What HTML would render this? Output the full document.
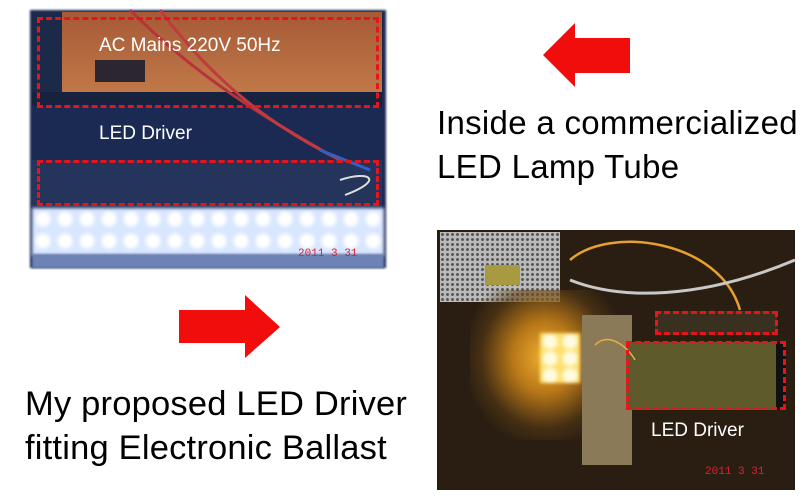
<!DOCTYPE html>
<html><head><meta charset="utf-8"><style>
body{margin:0;width:807px;height:502px;background:#fff;position:relative;overflow:hidden;font-family:"Liberation Sans",sans-serif}
.a{position:absolute}
.dash{position:absolute;border:3px dashed #e8141c;box-sizing:border-box}
.t{position:absolute;color:#000;font-size:32px;white-space:nowrap;line-height:1}
.w{position:absolute;color:#fff;white-space:nowrap;line-height:1}
</style></head><body>
<!-- top-left photo -->
<div class="a" style="left:30px;top:10px;width:356px;height:258px;background:#1b2a52;filter:blur(1px)"></div>
<div class="a" style="left:32px;top:12px;width:350px;height:80px;background:linear-gradient(#a65a36,#c07848);"></div>
<div class="a" style="left:32px;top:12px;width:30px;height:80px;background:#1c2a4a"></div>
<div class="a" style="left:95px;top:60px;width:50px;height:22px;background:#2b2630"></div>
<div class="a" style="left:32px;top:92px;width:350px;height:14px;background:#17223f"></div>
<div class="a" style="left:32px;top:160px;width:350px;height:48px;background:#25345a"></div>
<div class="a" style="left:32px;top:208px;width:352px;height:48px;background:radial-gradient(circle,#fff 6px,#d8e6ff 9px) 0 0/22px 22px;filter:blur(1.5px)"></div>
<div class="a" style="left:32px;top:254px;width:352px;height:14px;background:#6c83b5;filter:blur(1px)"></div>
<svg class="a" style="left:0;top:0" width="400" height="270"><path d="M130 10 C200 80 270 120 330 155" stroke="#b8323a" stroke-width="3" fill="none"/><path d="M160 10 C220 90 280 130 340 160" stroke="#c03a40" stroke-width="3" fill="none"/><path d="M320 150 L370 170" stroke="#3060c0" stroke-width="3"/><path d="M340 180 C370 170 385 180 345 195" stroke="#ddd" stroke-width="2" fill="none"/></svg>
<div class="dash" style="left:37px;top:17px;width:342px;height:91px"></div>
<div class="dash" style="left:37px;top:160px;width:342px;height:46px"></div>
<div class="w" style="left:99px;top:36px;font-size:19px">AC Mains 220V 50Hz</div>
<div class="w" style="left:99px;top:124px;font-size:19px">LED Driver</div>
<div class="a" style="left:298px;top:248px;color:#e02030;font-size:11px;font-family:'Liberation Mono',monospace">2011  3 31</div>
<!-- arrows -->
<svg class="a" style="left:0;top:0" width="807" height="502">
<polygon points="543,55 575,23 575,38 630,38 630,73 575,73 575,87" fill="#f20d0d"/>
<polygon points="179,310 245,310 245,295 280,327 245,358 245,343 179,343" fill="#f20d0d"/>
</svg>
<div class="t" style="left:437px;top:106px;font-size:33px;letter-spacing:0.3px">Inside a commercialized</div>
<div class="t" style="left:437px;top:150px;font-size:33px;letter-spacing:0.3px">LED Lamp Tube</div>
<div class="t" style="left:25px;top:387px;font-size:34.5px;letter-spacing:0.2px">My proposed LED Driver</div>
<div class="t" style="left:25px;top:431px;font-size:34.5px;letter-spacing:0.2px">fitting Electronic Ballast</div>
<!-- bottom-right photo -->
<div class="a" style="left:437px;top:230px;width:358px;height:260px;background:#2a1e12"></div>
<div class="a" style="left:440px;top:232px;width:120px;height:70px;background:radial-gradient(circle,#555 1.2px,#bbb 1.8px) 0 0/5px 5px"></div>
<div class="a" style="left:485px;top:265px;width:35px;height:20px;background:#a89a40"></div>
<div class="a" style="left:470px;top:290px;width:150px;height:150px;background:radial-gradient(ellipse at 50% 45%,#f0b030 0,#b87818 30%,rgba(90,60,20,.6) 60%,rgba(42,30,18,0) 78%)"></div>
<div class="a" style="left:540px;top:333px;width:40px;height:50px;background:radial-gradient(circle,#fffbe0 6px,#ffe070 9px) 0 0/20px 17px;filter:blur(1.5px)"></div>
<div class="a" style="left:582px;top:315px;width:50px;height:150px;background:#8a7a58"></div>
<div class="a" style="left:655px;top:311px;width:122px;height:24px;background:#3a3020"></div>
<div class="a" style="left:626px;top:342px;width:150px;height:68px;background:#5e5a2c"></div>
<div class="a" style="left:776px;top:342px;width:10px;height:68px;background:#111"></div>
<svg class="a" style="left:400px;top:220px" width="407" height="282"><path d="M170 40 C210 5 320 20 340 90" stroke="#e8a030" stroke-width="2.5" fill="none"/><path d="M170 60 C220 80 300 80 395 40" stroke="#c8c8c8" stroke-width="3" fill="none"/><path d="M195 125 C210 110 230 130 235 140" stroke="#e8b040" stroke-width="1.5" fill="none"/></svg>
<div class="dash" style="left:655px;top:311px;width:123px;height:24px"></div>
<div class="dash" style="left:626px;top:341px;width:160px;height:69px"></div>
<div class="w" style="left:651px;top:421px;font-size:19px">LED Driver</div>
<div class="a" style="left:705px;top:466px;color:#e02030;font-size:11px;font-family:'Liberation Mono',monospace">2011  3 31</div>
</body></html>
